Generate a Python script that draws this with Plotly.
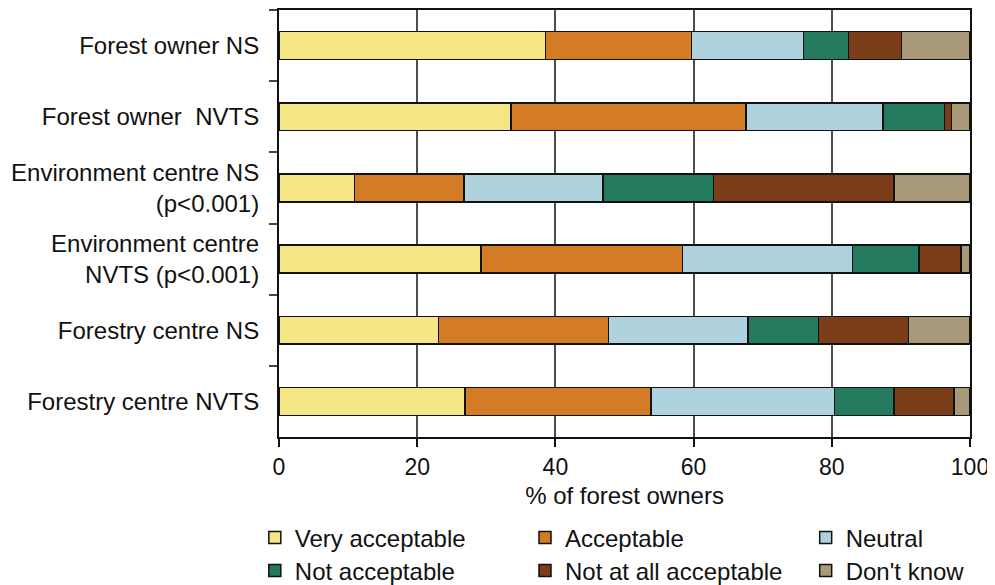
import plotly.graph_objects as go

categories = [
    "Forest owner NS",
    "Forest owner  NVTS",
    "Environment centre NS<br>(p&lt;0.001)",
    "Environment centre<br>NVTS (p&lt;0.001)",
    "Forestry centre NS",
    "Forestry centre NVTS",
]

series_names = ["Very acceptable", "Acceptable", "Neutral",
                "Not acceptable", "Not at all acceptable", "Don't know"]

very_acceptable = [38.6, 33.6, 10.9, 29.2, 23.1, 26.9]
acceptable = [21.1, 34.0, 15.9, 29.2, 24.6, 26.9]
neutral = [16.2, 19.8, 20.1, 24.6, 20.2, 26.6]
not_acceptable = [6.5, 8.9, 16.0, 9.6, 10.2, 8.6]
not_at_all_acceptable = [7.7, 1.0, 26.1, 6.1, 13.0, 8.7]
dont_know = [9.9, 2.7, 11.0, 1.3, 8.9, 2.3]

series_values = [very_acceptable, acceptable, neutral,
                 not_acceptable, not_at_all_acceptable, dont_know]
colors = ["#F5E685", "#D37C25", "#AED2DE", "#237A5E", "#7A3D17", "#A89A79"]

x_ticks = [0, 20, 40, 60, 80, 100]

FONT = "Liberation Sans, Arial, Helvetica, sans-serif"

fig = go.Figure()
legend_ids = ["legend", "legend2", "legend3", "legend4", "legend5", "legend6"]
for name, vals, col, lg in zip(series_names, series_values, colors, legend_ids):
    fig.add_trace(go.Bar(
        y=categories, x=vals, name=name, orientation="h",
        marker=dict(color=col, line=dict(color="#111111", width=1.5)),
        width=0.39, legend=lg,
    ))

# legend placement (paper coords), 2 rows x 3 columns
col_x = [-0.0350, 0.3560, 0.7622]
row_y = [-0.2365, -0.3138]
legend_font = dict(family=FONT, size=24, color="#111111")
layout_legends = {}
for i, lg in enumerate(legend_ids):
    layout_legends[lg] = dict(
        x=col_x[i % 3], y=row_y[i // 3], xanchor="left", yanchor="middle",
        orientation="h", font=legend_font, bgcolor="rgba(0,0,0,0)",
        borderwidth=0,
    )

# the page body has an 8px margin, so the figure is sized to fit the window
fig.update_layout(
    barmode="stack",
    width=987, height=577,
    margin=dict(l=271, r=25, t=2, b=148, autoexpand=False),
    paper_bgcolor="white", plot_bgcolor="white",
    font=dict(family=FONT, size=24, color="#111111"),
    showlegend=True,
    **layout_legends,
)

fig.update_xaxes(
    range=[0, 100], tickvals=x_ticks, ticktext=[str(v) for v in x_ticks],
    showgrid=True, gridcolor="#4d4d4d", gridwidth=2,
    showline=True, linecolor="#111111", linewidth=2, mirror=True,
    ticks="outside", ticklen=8, tickwidth=2, tickcolor="#111111",
    tickfont=dict(family=FONT, size=23, color="#111111"),
    title=dict(text="% of forest owners", font=dict(family=FONT, size=24, color="#111111"), standoff=9),
    zeroline=False, automargin=False,
)
fig.update_yaxes(
    autorange="reversed", tickson="boundaries",
    showgrid=False, showline=True, linecolor="#111111", linewidth=2, mirror=True,
    ticks="outside", ticklen=8, tickwidth=2, tickcolor="#444444",
    tickfont=dict(family=FONT, size=24, color="#111111"),
    ticklabelstandoff=13, automargin=False,
)

fig.write_html("out.html")
